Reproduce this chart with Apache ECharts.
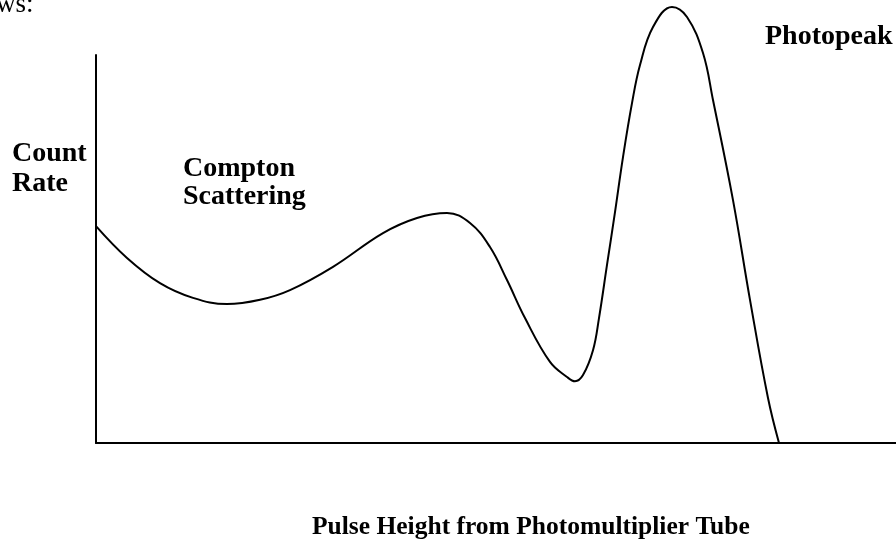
<!DOCTYPE html>
<html>
<head>
<meta charset="utf-8">
<script src="https://cdn.jsdelivr.net/npm/echarts@6/dist/echarts.min.js"></script>
<style>
  html, body { margin: 0; padding: 0; background: #fff; }
  #chart { width: 896px; height: 550px; }
</style>
</head>
<body>
<div id="chart"></div>
<script>
// pulse height (arbitrary units) and count rate
const pulseHeight = [0, 31, 64, 97, 131, 164, 194, 237, 287, 321, 351, 374, 394, 411, 429, 454, 471, 479, 487, 497, 503, 511, 519, 527, 536, 544, 557, 576, 591, 607, 617, 637, 654, 672, 683];
const countRate = [55.9, 47.7, 41.2, 37.4, 35.8, 36.9, 39.4, 45.4, 54.1, 58.0, 59.3, 56.7, 50.5, 42.0, 32.2, 20.9, 17.0, 15.9, 17.5, 23.9, 32.2, 45.9, 59.5, 73.7, 87.6, 97.4, 107.2, 112.4, 109.8, 100.5, 88.4, 62.6, 36.9, 11.6, 0];

const labelFont = 'bold 28px "Liberation Serif", "Times New Roman", serif';

const chart = echarts.init(document.getElementById("chart"));

const points = pulseHeight.map((x, i) => [x, countRate[i]]);

function label(text, x, y, font) {
  return {
    type: "text",
    left: x,
    top: y,
    style: { text: text, font: font || labelFont, fill: "#000" },
  };
}

chart.setOption({
  animation: false,
  grid: { left: 96, right: 0, top: 55, bottom: 107 },
  xAxis: {
    type: "value",
    min: 0,
    max: 800,
    axisLine: { show: true, onZero: false, lineStyle: { color: "#000", width: 2 } },
    axisTick: { show: false },
    axisLabel: { show: false },
    splitLine: { show: false },
  },
  yAxis: {
    type: "value",
    min: 0,
    max: 100,
    axisLine: { show: true, lineStyle: { color: "#000", width: 2 } },
    axisTick: { show: false },
    axisLabel: { show: false },
    splitLine: { show: false },
  },
  series: [
    {
      type: "line",
      data: points,
      smooth: 0.4,
      showSymbol: false,
      clip: false,
      lineStyle: { color: "#000", width: 2 },
    },
  ],
  graphic: [
    label("ws:", -4, -9, '27px "Liberation Serif", "Times New Roman", serif'),
    label("Count", 12, 140),
    label("Rate", 12, 170),
    label("Compton", 183, 155),
    label("Scattering", 183, 183),
    label("Photopeak", 765, 23),
    label("Pulse Height from Photomultiplier Tube", 312, 514, 'bold 25.5px "Liberation Serif", "Times New Roman", serif'),
  ],
});
</script>
</body>
</html>
